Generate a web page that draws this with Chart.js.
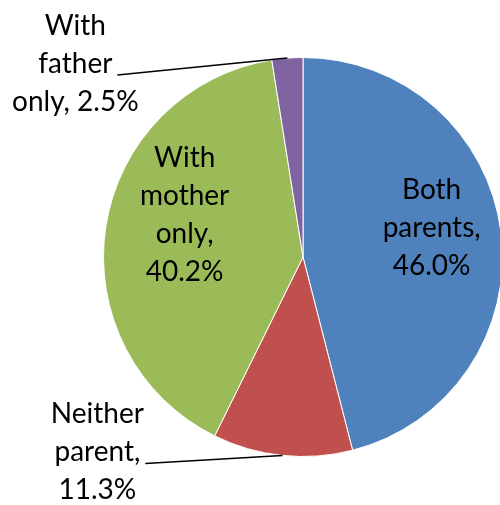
<!DOCTYPE html>
<html>
<head>
<meta charset="utf-8">
<script src="https://cdn.jsdelivr.net/npm/chart.js@4"></script>
<style>
  html, body { margin: 0; padding: 0; background: #fff; overflow: hidden; }
  #wrap { width: 506px; height: 505px; }
</style>
</head>
<body>
<div id="wrap"><canvas id="graficoPizza"></canvas></div>
<script>
const categorias = ['Both parents', 'Neither parent', 'With mother only', 'With father only'];
const valores = [46.0, 11.3, 40.2, 2.5];
const cores = ['#4F81BD', '#C0504D', '#9BBB59', '#8064A2'];
// texto de cada rótulo, linha a linha ({v} = percentual)
const linhasRotulo = [
    ['Both', 'parents,', '{v}'],
    ['Neither', 'parent,', '{v}'],
    ['With', 'mother', 'only,', '{v}'],
    ['With', 'father', 'only, {v}']
];
// posição dos rótulos: dentro da fatia ou fora com linha guia
const estiloRotulo = [
    { dentro: true, f: 0.65, dy: -13 },
    { dentro: false, dx: -185, dy: -3 },
    { dentro: true, f: 0.6, dy: -24 },
    { dentro: false, dx: -212, dy: 6 }
];

const rotulos = {
    id: 'rotulos',
    afterDatasetsDraw(chart) {
        const ctx = chart.ctx;
        const arcs = chart.getDatasetMeta(0).data;
        const alt = 38;
        ctx.save();
        ctx.font = '28px Lato';
        ctx.fillStyle = '#000';
        ctx.textAlign = 'center';
        ctx.textBaseline = 'middle';
        arcs.forEach((arc, i) => {
            const st = estiloRotulo[i];
            const meio = (arc.startAngle + arc.endAngle) / 2;
            const linhas = linhasRotulo[i].map(t => t.replace('{v}', valores[i].toFixed(1) + '%'));
            let cx, cy;
            if (st.dentro) {
                cx = arc.x + Math.cos(meio) * arc.outerRadius * st.f;
                cy = arc.y + Math.sin(meio) * arc.outerRadius * st.f + st.dy;
            } else {
                const bx = arc.x + Math.cos(meio) * arc.outerRadius;
                const by = arc.y + Math.sin(meio) * arc.outerRadius;
                cx = bx + st.dx;
                cy = by + st.dy;
                const w = ctx.measureText(linhas[1]).width;
                ctx.beginPath();
                ctx.moveTo(cx + w / 2 + 5, cy + 11);
                ctx.lineTo(bx, by);
                ctx.lineWidth = 1.5;
                ctx.strokeStyle = '#000';
                ctx.stroke();
            }
            const y0 = cy - (linhas.length - 1) * alt / 2;
            linhas.forEach((t, k) => ctx.fillText(t, cx, y0 + k * alt));
        });
        ctx.restore();
    }
};

new Chart(document.getElementById('graficoPizza').getContext('2d'), {
    type: 'pie',
    data: {
        labels: categorias,
        datasets: [{
            data: valores,
            backgroundColor: cores,
            borderColor: '#ffffff',
            borderWidth: 1,
            hoverOffset: 0
        }]
    },
    options: {
        responsive: true,
        maintainAspectRatio: false,
        animation: false,
        layout: { padding: { left: 103, right: 3, top: 57, bottom: 48 } },
        plugins: {
            legend: { display: false },
            tooltip: { enabled: false }
        }
    },
    plugins: [rotulos]
});
</script>
</body>
</html>
